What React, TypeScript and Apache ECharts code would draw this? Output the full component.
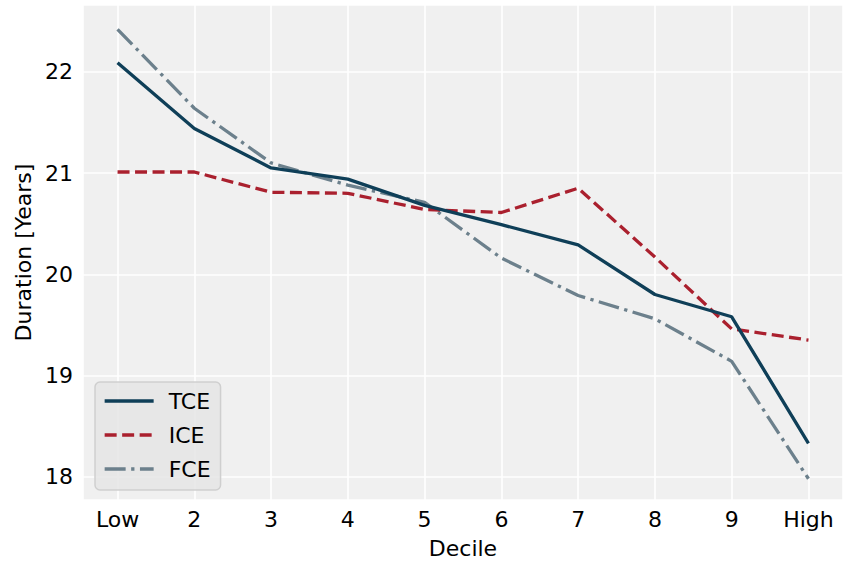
import React, { useEffect, useRef } from "react";
import * as echarts from "echarts";

const categories = ["Low", "2", "3", "4", "5", "6", "7", "8", "9", "High"];
const tce = [22.09, 21.44, 21.05, 20.94, 20.68, 20.49, 20.29, 19.8, 19.58, 18.33];
const ice = [21.01, 21.01, 20.81, 20.8, 20.64, 20.61, 20.85, 20.17, 19.46, 19.35];
const fce = [22.42, 21.64, 21.1, 20.88, 20.71, 20.16, 19.79, 19.56, 19.14, 17.98];

const FONT = "DejaVu Sans";
const LW = 3.3;

export default function App() {
  const ref = useRef<HTMLDivElement>(null);
  useEffect(() => {
    if (!ref.current) return;
    const chart = echarts.init(ref.current, undefined, { renderer: "svg" });
    const toPts = (arr: number[]) => arr.map((v, i) => [i, v]);
    chart.setOption({
      animation: false,
      backgroundColor: "#ffffff",
      textStyle: { fontFamily: FONT },
      grid: {
        left: 83,
        top: 5,
        right: 2,
        bottom: 67,
        show: true,
        backgroundColor: "#f0f0f0",
        borderWidth: 0,
      },
      xAxis: {
        type: "value",
        min: -0.45,
        max: 9.45,
        splitNumber: 10,
        name: "Decile",
        nameLocation: "middle",
        nameGap: 37,
        nameTextStyle: { fontSize: 22, color: "#000", fontFamily: FONT },
        axisLine: { show: false },
        axisTick: { show: false },
        axisLabel: {
          fontSize: 22,
          color: "#000",
          margin: 8,
          fontFamily: FONT,
          showMinLabel: false,
          showMaxLabel: false,
          formatter: (v: number) =>
            Math.abs(v - Math.round(v)) < 1e-6 && v >= 0 && v <= 9 ? categories[Math.round(v)] : "",
        },
        splitLine: { show: true, lineStyle: { color: "#ffffff", width: 1.6 } },
      },
      yAxis: {
        type: "value",
        min: 17.77,
        max: 22.66,
        splitNumber: 5,
        name: "Duration [Years]",
        nameLocation: "middle",
        nameGap: 47,
        nameTextStyle: { fontSize: 22, color: "#000", fontFamily: FONT },
        axisLine: { show: false },
        axisTick: { show: false },
        axisLabel: {
          fontSize: 22,
          color: "#000",
          margin: 10,
          fontFamily: FONT,
          showMinLabel: false,
          showMaxLabel: false,
          formatter: (v: number) => (Math.abs(v - Math.round(v)) < 1e-6 ? String(Math.round(v)) : ""),
        },
        splitLine: { show: true, lineStyle: { color: "#ffffff", width: 1.6 } },
      },
      legend: {
        orient: "vertical",
        left: 95,
        top: 382,
        itemWidth: 49,
        itemHeight: 14,
        itemGap: 12,
        padding: [8, 10, 10, 8],
        backgroundColor: "rgba(229,229,229,0.85)",
        borderColor: "#cfcfcf",
        borderWidth: 1.5,
        borderRadius: 5,
        itemStyle: { opacity: 0 },
        lineStyle: { width: LW },
        textStyle: { fontSize: 22, color: "#000", fontFamily: FONT, padding: [0, 0, 0, 10] },
        data: ["TCE", "ICE", "FCE"],
      },
      series: [
        {
          name: "TCE",
          type: "line",
          data: toPts(tce),
          symbol: "none",
          lineStyle: { color: "#0f3f58", width: LW, type: "solid" },
          itemStyle: { color: "#0f3f58" },
          z: 3,
        },
        {
          name: "ICE",
          type: "line",
          data: toPts(ice),
          symbol: "none",
          lineStyle: { color: "#aa202e", width: LW, type: [12, 5.5] },
          itemStyle: { color: "#aa202e" },
          z: 2,
        },
        {
          name: "FCE",
          type: "line",
          data: toPts(fce),
          symbol: "none",
          lineStyle: { color: "#6c808c", width: LW, type: [21, 5.5, 3.3, 5.5] },
          itemStyle: { color: "#6c808c" },
          z: 1,
        },
      ],
    });
    return () => chart.dispose();
  }, []);
  return <div ref={ref} style={{ width: 845, height: 567, position: "absolute", left: 0, top: 0 }} />;
}
